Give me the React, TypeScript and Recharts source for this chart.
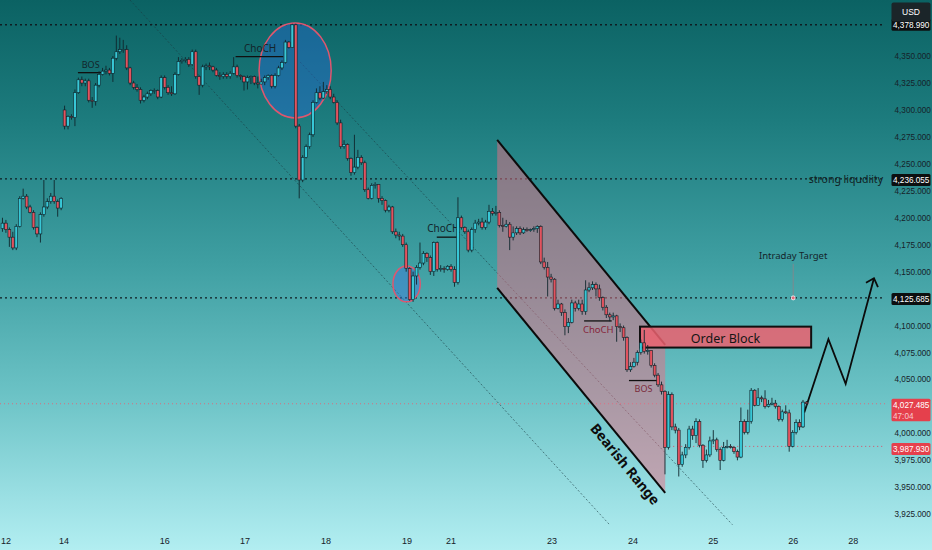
import React from "react";
import { ComposedChart, Bar, XAxis, YAxis, ReferenceArea } from "recharts";

// ---- axis setup ----
const X_DOMAIN: [number, number] = [-0.78, 255.7];
const Y_DOMAIN: [number, number] = [3915, 4402];

const dayTicks = [0.96, 17.8, 47.0, 70.2, 93.7, 117.2, 129.9, 159.2, 182.7, 205.9, 229.1, 246.5];
const dayLabels = ["12", "14", "16", "17", "18", "19", "21", "23", "24", "25", "26", "28"];
const priceTicks = [3925, 3950, 3975, 4000, 4050, 4075, 4100, 4150, 4175, 4200, 4225, 4250, 4275, 4300, 4325, 4350];

// ---- candles (1H) ----
const closes = [
  4195, 4189, 4182, 4172, 4192, 4218, 4220, 4210, 4205, 4191, 4185, 4203, 4210, 4215, 4220, 4215, 4209, 4218,
  4285, 4294, 4293, 4316, 4328, 4325, 4327, 4309, 4308, 4323, 4333, 4336, 4337, 4334, 4348, 4354, 4356, 4356, 4339, 4325, 4321, 4319, 4309,
  4312, 4315, 4318, 4318, 4312, 4330, 4321, 4316, 4315, 4333, 4345, 4346, 4347, 4342, 4354, 4331, 4323, 4340, 4341, 4340,
  4337, 4332, 4331, 4333, 4331, 4334, 4340, 4332, 4331, 4326, 4330, 4331, 4325, 4324, 4326, 4330, 4332, 4322, 4332, 4339, 4344, 4363, 4358, 4379,
  4285, 4235, 4256, 4266, 4277, 4307, 4316, 4311, 4317, 4319, 4312, 4307, 4288,
  4266, 4268, 4255, 4242, 4247, 4256, 4251, 4226, 4218, 4230, 4231, 4218, 4216, 4207, 4210, 4187, 4184, 4183, 4175, 4153,
  4124, 4146, 4154, 4158, 4167, 4163, 4150, 4177, 4152, 4153, 4152, 4155, 4152, 4140,
  4200, 4191, 4187, 4170, 4189, 4195, 4196, 4191, 4196, 4206, 4204, 4205, 4193, 4192, 4194, 4182, 4186, 4190, 4186, 4189, 4188, 4189, 4190, 4192,
  4159, 4154, 4145, 4143, 4116, 4120, 4112, 4099, 4103, 4121, 4116, 4120, 4113, 4133, 4135, 4138, 4134, 4126, 4117, 4110,
  4108, 4109, 4099, 4098, 4089, 4059, 4062, 4066, 4075, 4084, 4076, 4077, 4063, 4054, 4045, 4039,
  3987, 4036, 4006, 4003, 3971, 3980, 3987, 4004, 3998, 4011, 3989, 3975, 3980, 3993, 3994, 3985, 3975, 3987, 3988, 3987,
  3983, 3978, 4011, 4001, 4011, 4040, 4026, 4033, 4032, 4025, 4027, 4028, 4025, 4013, 4020, 4019, 3988, 4001, 4010, 4006, 4029, 4027.485,
];
const highs = [
  4200, 4198, 4191, 4187, 4194, 4220, 4227, 4222, 4212, 4207, 4192, 4205, 4235, 4218, 4223, 4235, 4217, 4219,
  4304, 4295, 4296, 4319, 4330, 4331, 4329, 4329, 4312, 4325, 4336, 4339, 4341, 4339, 4350, 4369, 4367, 4365, 4360, 4340, 4327, 4324, 4321,
  4314, 4317, 4319, 4320, 4319, 4332, 4332, 4323, 4322, 4335, 4349, 4348, 4349, 4349, 4356, 4356, 4332, 4342, 4343, 4344,
  4341, 4339, 4335, 4335, 4335, 4336, 4349, 4342, 4333, 4332, 4332, 4332, 4332, 4331, 4329, 4332, 4333, 4333, 4334, 4341, 4346, 4365, 4364, 4380,
  4380, 4287, 4258, 4268, 4279, 4309, 4320, 4322, 4326, 4323, 4322, 4315, 4309,
  4291, 4272, 4269, 4256, 4277, 4263, 4258, 4253, 4228, 4232, 4233, 4231, 4220, 4217, 4212, 4211, 4190, 4187, 4185, 4177,
  4154, 4150, 4156, 4177, 4169, 4168, 4165, 4178, 4178, 4156, 4155, 4156, 4157, 4155,
  4219, 4202, 4192, 4189, 4191, 4198, 4199, 4200, 4198, 4212, 4209, 4211, 4207, 4200, 4198, 4196, 4192, 4192, 4192, 4191, 4191, 4190, 4192, 4193,
  4193, 4163, 4159, 4148, 4144, 4124, 4121, 4115, 4107, 4124, 4123, 4124, 4124, 4142, 4140, 4141, 4140, 4138, 4127, 4119,
  4112, 4112, 4110, 4102, 4100, 4090, 4066, 4070, 4077, 4087, 4096, 4082, 4077, 4065, 4056, 4048,
  4040, 4039, 4038, 4009, 4005, 3983, 3990, 4007, 4007, 4014, 4013, 3990, 3985, 3997, 4003, 3996, 3987, 3992, 3994, 3990,
  3988, 3985, 4024, 4013, 4022, 4042, 4041, 4042, 4035, 4040, 4031, 4033, 4031, 4026, 4022, 4026, 4022, 4003, 4013, 4013, 4031, 4030,
];
const lows = [
  4187, 4186, 4173, 4170, 4170, 4191, 4217, 4208, 4204, 4189, 4182, 4177, 4201, 4208, 4213, 4213, 4201, 4207,
  4282, 4282, 4291, 4285, 4315, 4322, 4322, 4307, 4302, 4304, 4321, 4332, 4333, 4332, 4326, 4346, 4352, 4353, 4337, 4323, 4319, 4317, 4306,
  4307, 4310, 4313, 4315, 4310, 4311, 4319, 4314, 4313, 4314, 4332, 4343, 4344, 4340, 4341, 4329, 4314, 4321, 4337, 4337,
  4335, 4331, 4328, 4329, 4329, 4329, 4333, 4330, 4328, 4318, 4319, 4324, 4323, 4320, 4324, 4323, 4328, 4320, 4320, 4331, 4337, 4343, 4357, 4358,
  4283, 4218, 4233, 4255, 4264, 4275, 4306, 4309, 4310, 4315, 4310, 4306, 4286,
  4264, 4264, 4253, 4239, 4240, 4245, 4249, 4224, 4217, 4217, 4227, 4214, 4212, 4205, 4205, 4185, 4181, 4179, 4173, 4150,
  4123, 4122, 4138, 4152, 4156, 4159, 4147, 4146, 4150, 4150, 4149, 4151, 4150, 4136,
  4138, 4189, 4185, 4168, 4168, 4186, 4193, 4189, 4189, 4194, 4202, 4202, 4191, 4187, 4191, 4170, 4179, 4184, 4184, 4185, 4187, 4187, 4187, 4186,
  4157, 4152, 4127, 4140, 4114, 4115, 4109, 4091, 4093, 4102, 4113, 4114, 4110, 4110, 4131, 4133, 4127, 4123, 4114, 4107,
  4104, 4105, 4085, 4094, 4086, 4057, 4057, 4061, 4063, 4073, 4074, 4073, 4061, 4052, 4043, 4036,
  3962, 3985, 4003, 4000, 3960, 3969, 3977, 3985, 3994, 3991, 3987, 3968, 3973, 3978, 3990, 3983, 3966, 3974, 3986, 3986,
  3981, 3975, 3977, 3999, 3999, 4009, 4025, 4026, 4029, 4023, 4024, 4026, 4023, 4011, 4011, 4018, 3983, 3987, 3999, 4003, 4005, 4025,
];
// opens follow the previous close, except where the session gapped
const gapOpens: Record<number, number> = { 0: 4190, 18: 4300 };

// ---- levels & drawings (index, price) ----
const levelTop = 4378.99;
const levelLiquidity = 4236.055;
const levelTarget = 4125.685;
const levelLast = 4027.485;
const levelLow = 3987.93;

const trendLines = [
  [[36.9, 4402], [175.9, 3915.2]],
  [[86.2, 4344.5], [211.5, 3915.2]],
];
const bigCircle = { x1: 74.3, x2: 95.2, p1: 4292.6, p2: 4380.7 };
const smallCircle = { x1: 113.1, x2: 121.0, p1: 4122, p2: 4155.3 };
const channel = { x1: 143.3, x2: 192.0, top: [4272.2, 4082.1], bottom: [4134.9, 3944.8] };
const orderBlock = { x1: 184.7, x2: 234.3, p1: 4079.6, p2: 4099 };
const projection = [[232.3, 4019.3], [239.3, 4087.4], [244.3, 4045.9], [252.5, 4143.9]];
const markers = [
  { from: 21.8, to: 28.7, price: 4334.6, text: "BOS", at: 25.5, dy: -5, color: "#13252b", size: 9 },
  { from: 67.5, to: 81.3, price: 4349.4, text: "ChoCH", at: 74.6, dy: -5, color: "#13252b", size: 10 },
  { from: 125.8, to: 132.1, price: 4182, text: "ChoCH", at: 127.7, dy: -5, color: "#13252b", size: 10 },
  { from: 168.5, to: 176.5, price: 4104.3, text: "ChoCH", at: 172.6, dy: 12, color: "#86253a", size: 9.5 },
  { from: 181.5, to: 189.6, price: 4049, text: "BOS", at: 185.7, dy: 11, color: "#7a2b3b", size: 9 },
];

const rows = closes.map((close, i) => {
  const open = gapOpens[i] ?? closes[i - 1];
  return { i, open, close, high: highs[i], low: lows[i], range: [lows[i], highs[i]] };
});

const AXIS_FONT = "'Liberation Sans', Arial, sans-serif";
const DRAW_FONT = "'Noto Sans', 'Open Sans', sans-serif";
const SCALE_SIZE = 8.2;

const fmtPrice = (v: number) => v.toLocaleString("en-US", { minimumFractionDigits: 3, maximumFractionDigits: 3 });

function PriceTick(props: any) {
  const { y, payload } = props;
  return (
    <text x={894.5} y={y + 3} fontSize={SCALE_SIZE} fill="#16222a" fontFamily={AXIS_FONT}>
      {fmtPrice(payload.value)}
    </text>
  );
}

function DayTick(props: any) {
  const { x, y, payload } = props;
  const label = dayLabels[dayTicks.indexOf(payload.value)] ?? "";
  return (
    <text x={x} y={y + 11} textAnchor="middle" fontSize={9} fill="#16222a" fontFamily={AXIS_FONT}>
      {label}
    </text>
  );
}

function Candle(props: any) {
  const { x, y, width, height, payload } = props;
  if (!payload) return null;
  const { open, close } = payload;
  const high = Math.max(payload.high, open, close);
  const low = Math.min(payload.low, open, close);
  const top = Math.min(y, y + height);
  const h = Math.abs(height);
  const span = payload.high - payload.low || 1;
  const py = (v: number) => top + ((payload.high - v) / span) * h;
  const cx = x + width / 2;
  const up = close >= open;
  const bTop = py(Math.max(open, close));
  const bBot = py(Math.min(open, close));
  return (
    <g>
      <line x1={cx} x2={cx} y1={py(high)} y2={py(low)} stroke="#10262c" strokeWidth={0.9} />
      <rect
        x={cx - 1.4}
        y={bTop}
        width={2.8}
        height={Math.max(bBot - bTop, 0.8)}
        fill={up ? "#38c7d6" : "#e2535f"}
        stroke="#0e2228"
        strokeWidth={0.6}
      />
    </g>
  );
}

function Drawings(props: any) {
  const { x, y, width, height } = props;
  const X = (i: number) => x + ((i - X_DOMAIN[0]) / (X_DOMAIN[1] - X_DOMAIN[0])) * width;
  const Y = (p: number) => y + ((Y_DOMAIN[1] - p) / (Y_DOMAIN[1] - Y_DOMAIN[0])) * height;
  const left = x;
  const right = x + width;
  const lblX = right + 6.5;
  const lblW = 39;
  const txtX = lblX + 1.5;

  const ell = (c: { x1: number; x2: number; p1: number; p2: number }, fill: string) => (
    <ellipse
      cx={(X(c.x1) + X(c.x2)) / 2}
      cy={(Y(c.p1) + Y(c.p2)) / 2}
      rx={(X(c.x2) - X(c.x1)) / 2}
      ry={(Y(c.p1) - Y(c.p2)) / 2}
      fill={fill}
      stroke="#e0566e"
      strokeWidth={1.5}
    />
  );

  const chPts = [
    [X(channel.x1), Y(channel.top[0])],
    [X(channel.x2), Y(channel.top[1])],
    [X(channel.x2), Y(channel.bottom[1])],
    [X(channel.x1), Y(channel.bottom[0])],
  ];
  const angle =
    (Math.atan2(Y(channel.bottom[1]) - Y(channel.bottom[0]), X(channel.x2) - X(channel.x1)) * 180) / Math.PI;

  const proj = projection.map(([i, p]) => `${X(i)},${Y(p)}`).join(" ");
  const tip = projection[projection.length - 1];
  const tx = X(tip[0]);
  const ty = Y(tip[1]);

  const priceBox = (p: number, text: string, bg: string, dyTop = -6, h = 12) => (
    <g>
      <rect x={lblX} y={Y(p) + dyTop} width={lblW} height={h} fill={bg} rx={1.5} />
      <text x={txtX} y={Y(p) + dyTop + 9} fontSize={SCALE_SIZE} fill="#ffffff" fontFamily={AXIS_FONT}>
        {text}
      </text>
    </g>
  );

  return (
    <g>
      {/* faint trend lines */}
      {trendLines.map(([a, b], k) => (
        <line key={k} x1={X(a[0])} y1={Y(a[1])} x2={X(b[0])} y2={Y(b[1])} stroke="#1b3a42" strokeOpacity={0.75} strokeWidth={0.8} strokeDasharray="2 2" />
      ))}

      {/* horizontal levels */}
      {[levelTop, levelLiquidity, levelTarget].map((p) => (
        <line key={p} x1={left} x2={right} y1={Y(p)} y2={Y(p)} stroke="#0e1d22" strokeWidth={1.4} strokeDasharray="2 3" />
      ))}
      <line x1={left} x2={right} y1={Y(levelLast)} y2={Y(levelLast)} stroke="#d8707f" strokeWidth={1} strokeDasharray="1 3" />
      <line x1={X(192)} x2={right} y1={Y(levelLow)} y2={Y(levelLow)} stroke="#d8506a" strokeWidth={1} strokeDasharray="1 3" />

      {/* bearish channel */}
      <polygon points={chPts.map((q) => q.join(",")).join(" ")} fill="rgba(232,110,132,0.5)" />
      <line x1={chPts[0][0]} y1={chPts[0][1]} x2={chPts[1][0]} y2={chPts[1][1]} stroke="#0b0b0b" strokeWidth={2} />
      <line x1={chPts[3][0]} y1={chPts[3][1]} x2={chPts[2][0]} y2={chPts[2][1]} stroke="#0b0b0b" strokeWidth={2} />
      <text
        transform={`translate(${X(180.5)},${Y(3971.7)}) rotate(${angle})`}
        textAnchor="middle"
        dominantBaseline="central"
        fontSize={14}
        fontWeight={700}
        fill="#0d0d0d"
        fontFamily={DRAW_FONT}
      >
        Bearish Range
      </text>

      {/* circles */}
      {ell(bigCircle, "rgba(40,105,215,0.42)")}
      {ell(smallCircle, "rgba(60,120,225,0.42)")}

      {/* structure marks */}
      {markers.map((m, k) => (
        <g key={k}>
          <line x1={X(m.from)} x2={X(m.to)} y1={Y(m.price)} y2={Y(m.price)} stroke="#101010" strokeWidth={1.3} />
          <text x={X(m.at)} y={Y(m.price) + m.dy} textAnchor="middle" fontSize={m.size} fill={m.color} fontFamily={DRAW_FONT}>
            {m.text}
          </text>
        </g>
      ))}

      {/* order block */}
      <rect
        x={X(orderBlock.x1)}
        y={Y(orderBlock.p2)}
        width={X(orderBlock.x2) - X(orderBlock.x1)}
        height={Y(orderBlock.p1) - Y(orderBlock.p2)}
        fill="rgba(236,98,112,0.85)"
        stroke="#101010"
        strokeWidth={2}
      />
      <text
        x={(X(orderBlock.x1) + X(orderBlock.x2)) / 2}
        y={(Y(orderBlock.p1) + Y(orderBlock.p2)) / 2 + 1}
        textAnchor="middle"
        dominantBaseline="central"
        fontSize={12.5}
        fill="#161616"
        fontFamily={DRAW_FONT}
      >
        Order Block
      </text>

      {/* projection */}
      <polyline points={proj} fill="none" stroke="#0b0b0b" strokeWidth={1.8} strokeLinejoin="miter" />
      <polyline points={`${tx - 8},${ty + 4.5} ${tx},${ty} ${tx + 4},${ty + 9}`} fill="none" stroke="#0b0b0b" strokeWidth={1.8} />

      {/* intraday target */}
      <line x1={X(229.1)} x2={X(229.1)} y1={Y(4157.2)} y2={Y(levelTarget) - 2} stroke="#7d8a8e" strokeWidth={1} />
      <circle cx={X(229.1)} cy={Y(levelTarget)} r={2} fill="#e46a7a" stroke="#ffffff" strokeWidth={0.8} />
      <text x={X(229.1)} y={Y(4162)} textAnchor="middle" fontSize={9.5} fill="#14242a" fontFamily={DRAW_FONT}>
        Intraday Target
      </text>
      <text x={right - 2} y={Y(levelLiquidity) + 4} textAnchor="end" fontSize={10.5} fill="#0f1d22" fontFamily={DRAW_FONT}>
        strong liqudiity
      </text>

      {/* price scale labels */}
      {priceBox(levelTop, "4,378.990", "#0c0f10")}
      {priceBox(levelLiquidity, "4,236.055", "#0c0f10", -5)}
      {priceBox(levelTarget, "4,125.685", "#0c0f10", -5)}
      <g>
        <rect x={lblX} y={Y(levelLast) - 5} width={lblW} height={22.5} fill="#e5404c" rx={1.5} />
        <text x={txtX} y={Y(levelLast) + 4.5} fontSize={SCALE_SIZE} fill="#ffffff" fontFamily={AXIS_FONT}>
          4,027.485
        </text>
        <text x={txtX} y={Y(levelLast) + 15} fontSize={SCALE_SIZE} fill="#f8c9cd" fontFamily={AXIS_FONT}>
          47:04
        </text>
      </g>
      {priceBox(levelLow, "3,987.930", "#e5404c", -3.5)}
      <rect x={lblX} y={2.5} width={lblW} height={19} fill="#1b2529" rx={2} />
      <text x={lblX + lblW / 2} y={15} textAnchor="middle" fontSize={8.5} fill="#ffffff" fontFamily={AXIS_FONT}>
        USD
      </text>
    </g>
  );
}

export default function App() {
  return (
    <div
      style={{
        position: "absolute",
        left: 0,
        top: 0,
        width: 932,
        height: 550,
        background: "linear-gradient(180deg, #0b6263 0%, #1d7c7e 22%, #3f9fa2 48%, #6cc3c6 72%, #9adfe3 90%, #b2eef1 100%)",
      }}
    >
      <ComposedChart width={932} height={550} data={rows} margin={{ top: 0, right: 0, bottom: 0, left: 0 }}>
        <XAxis
          dataKey="i"
          type="number"
          domain={X_DOMAIN}
          allowDataOverflow
          ticks={dayTicks}
          interval={0}
          height={25}
          axisLine={false}
          tickLine={false}
          tick={<DayTick />}
        />
        <YAxis
          orientation="right"
          type="number"
          domain={Y_DOMAIN}
          allowDataOverflow
          ticks={priceTicks}
          interval={0}
          width={47}
          axisLine={false}
          tickLine={false}
          tick={<PriceTick />}
        />
        <Bar dataKey="range" barSize={3} shape={<Candle />} isAnimationActive={false} />
        <ReferenceArea
          x1={X_DOMAIN[0]}
          x2={X_DOMAIN[1]}
          y1={Y_DOMAIN[0]}
          y2={Y_DOMAIN[1]}
          ifOverflow="visible"
          shape={(p: any) => <Drawings {...p} />}
        />
      </ComposedChart>
    </div>
  );
}
